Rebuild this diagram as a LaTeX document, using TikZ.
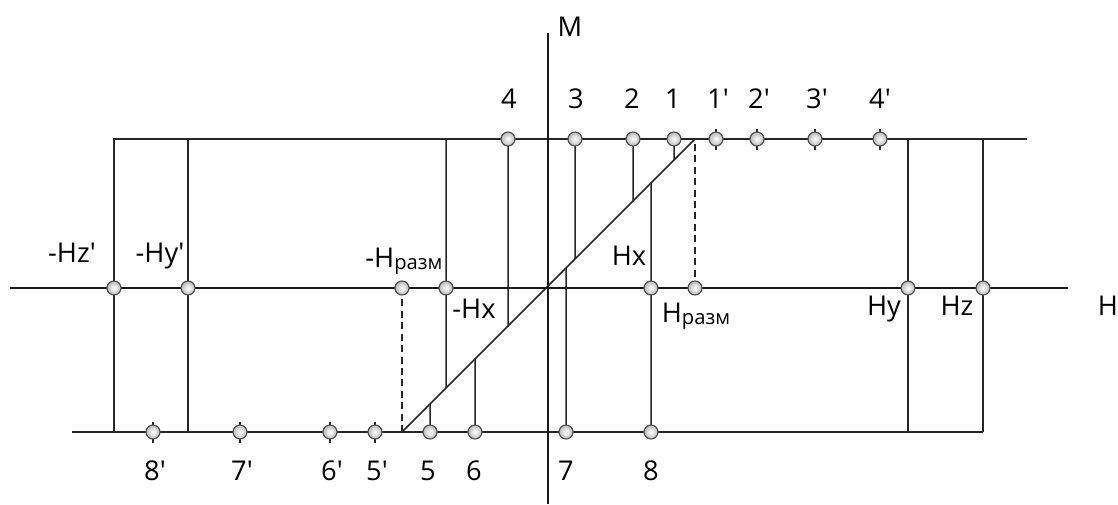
\documentclass[tikz,border=0pt]{standalone}
\usepackage{fontspec}
\setmainfont{Open Sans}
\usetikzlibrary{calc}

\newcommand{\pr}{\textquotesingle}
\newcommand{\razm}{\raisebox{-0.2ex}{\fontsize{11.5}{13}\selectfont разм}}

\tikzset{
  axisline/.style={line width=1.3pt, draw=black!90},
  wire/.style={line width=0.85pt, draw=black!85},
  guide/.style={line width=0.85pt, draw=black!85, dash pattern=on 4pt off 2.5pt},
  pt/.style={circle, draw=black!70, line width=0.65pt, inner color=white, outer color=gray!55, inner sep=0pt, minimum size=0.28cm},
  tickline/.style={line width=0.85pt, draw=black!85},
  lbl/.style={anchor=base, inner sep=0pt},
}

\begin{document}
\begin{tikzpicture}[x=0.02cm, y=-0.02cm, every node/.style={font=\fontsize{15.5}{18}\selectfont}]
  \useasboundingbox (0,0) rectangle (1118,504);
  % frame
  \coordinate (hl) at (10,288);   \coordinate (hr) at (1068,288);
  \coordinate (mt) at (548,33);   \coordinate (mb) at (548,504);
  \coordinate (tl) at (113,139);  \coordinate (tr) at (1027,139);
  \coordinate (bl) at (72,432);   \coordinate (br) at (983,432);
  \coordinate (dlo) at (402,432); \coordinate (dhi) at (695,139);
  % points on the H axis
  \foreach \n/\x in {nhz/114, nhy/188, nrazm/402, nhx/446, phx/651, prazm/695, phy/908, phz/983}
    \coordinate (\n) at (\x,288);
  \coordinate (nhx-d) at ($(dlo)!{(446-402)/293}!(dhi)$);
  % top and bottom points
  \foreach \n/\x in {1/674, 2/633, 3/575, 4/508} {
    \coordinate (t\n) at (\x,139);
    \coordinate (t\n-d) at ($(dlo)!{(\x-402)/293}!(dhi)$);
  }
  \foreach \n/\x in {5/430, 6/475, 7/566, 8/651} {
    \coordinate (b\n) at (\x,432);
    \coordinate (b\n-d) at ($(dlo)!{(\x-402)/293}!(dhi)$);
  }
  \foreach \n/\x in {1/716, 2/757, 3/815, 4/880}
    \coordinate (t\n p) at (\x,139);
  \foreach \n/\x in {5/375, 6/330, 7/240, 8/153}
    \coordinate (b\n p) at (\x,432);

  % lines
  \draw[wire] (tl) -- (tr);
  \draw[wire] (bl) -- (br);
  \foreach \n in {nhz, nhy, phy, phz}
    \draw[wire] (\n |- tl) -- (\n |- bl);
  \draw[wire] (nhx |- tl) -- (nhx-d);
  \foreach \n in {1,...,4}
    \draw[wire] (t\n) -- (t\n-d);
  \foreach \n in {5,...,8}
    \draw[wire] (b\n) -- (b\n-d);
  \draw[wire] (dlo) -- (dhi);
  \draw[guide] (prazm) -- (prazm |- tl);
  \draw[guide] (nrazm) -- (nrazm |- bl);
  \draw[axisline] (hl) -- (hr);
  \draw[axisline] (mt) -- (mb);
  \foreach \c in {t1p, t2p, t3p, t4p, b5p, b6p, b7p, b8p}
    \draw[tickline] ([yshift=-0.21cm]\c) -- ([yshift=0.21cm]\c);

  % circles
  \foreach \c in {nhz, nhy, nrazm, nhx, phx, prazm, phy, phz,
                  t1, t2, t3, t4, b5, b6, b7, b8,
                  t1p, t2p, t3p, t4p, b5p, b6p, b7p, b8p}
    \node[pt] (\c-o) at (\c) {};

  % labels
  \node[lbl] (l-m) at (570,36) {M};
  \node[lbl] (l-h) at (1108,315) {H};
  \node[lbl] (l-nhz) at (72,262) {-Hz\pr};
  \node[lbl] (l-nhy) at (160,262) {-Hy\pr};
  \node[lbl] (l-nrazm) at (404,267) {-H\razm};
  \node[lbl] (l-phx) at (629,265) {Hx};
  \node[lbl] (l-nhx) at (474,318) {-Hx};
  \node[lbl] (l-prazm) at (696,322) {H\razm};
  \node[lbl] (l-phy) at (884,315) {Hy};
  \node[lbl] (l-phz) at (957,315) {Hz};
  \foreach \t/\x in {4/509, 3/576, 2/632, 1/673, 1\pr/718, 2\pr/759, 3\pr/817, 4\pr/880}
    \node[lbl] (l-top\x) at (\x,108) {\t};
  \foreach \t/\x in {8\pr/155, 7\pr/242, 6\pr/332, 5\pr/377, 5/428, 6/474, 7/566, 8/651}
    \node[lbl] (l-bot\x) at (\x,480) {\t};
\end{tikzpicture}
\end{document}
